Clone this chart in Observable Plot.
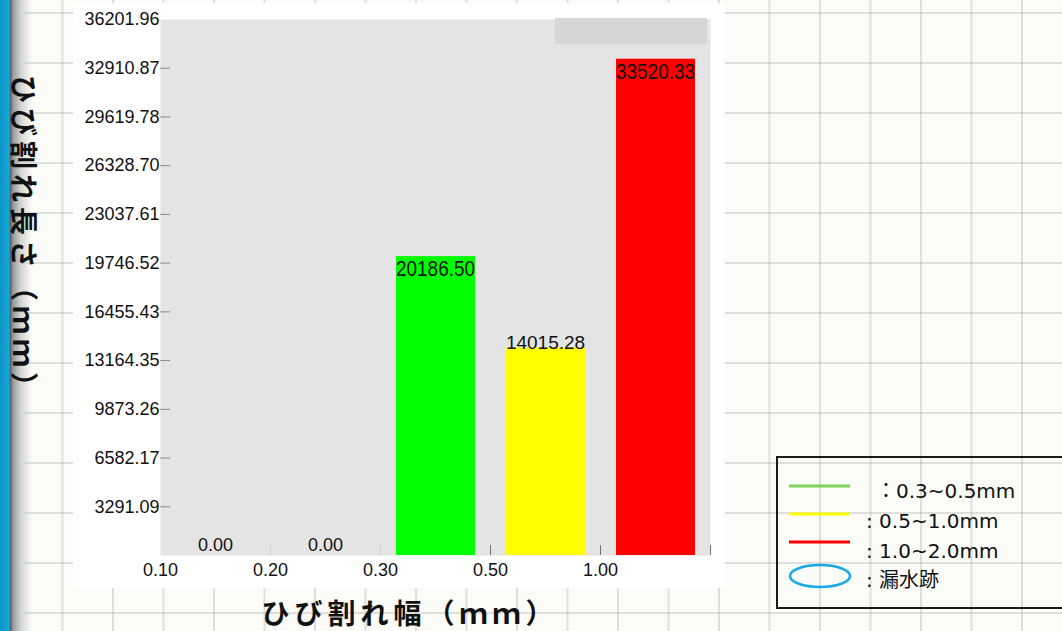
<!DOCTYPE html>
<html>
<head>
<meta charset="utf-8">
<script src="https://cdn.jsdelivr.net/npm/d3@7"></script>
<script src="https://cdn.jsdelivr.net/npm/@observablehq/plot@0.6"></script>
<style>
  html, body { margin: 0; padding: 0; }
  body {
    width: 1062px; height: 631px; overflow: hidden; position: relative;
    background-color: #fbfcf7;
    background-image:
      linear-gradient(to right, rgba(140,140,140,0.26) 0 2px, transparent 2px),
      linear-gradient(to bottom, rgba(140,140,140,0.26) 0 2px, transparent 2px);
    background-size: 50.5px 50px;
    background-position: 11px 12px;
  }
  #strip {
    position: absolute; left: 0; top: 0; width: 34px; height: 631px;
    background: linear-gradient(to right, #0b96c8 0px, #1aa5d7 9px, #56656d 10.5px, #959b9e 13px, #d4d6d3 21px, rgba(251,252,247,0) 32px);
  }
  #panel { position: absolute; left: 73px; top: 3px; width: 652px; height: 585px; background: #fff; }
  #chart { position: absolute; left: 0; top: 0; }
  #stamp { position: absolute; left: 555px; top: 18px; width: 152px; height: 26px; background: #d6d6d6; }
  #overlay { position: absolute; left: 0; top: 0; }
</style>
</head>
<body>
<div id="strip"></div>
<div id="panel"></div>
<div id="chart"></div>
<div id="stamp"></div>
<svg id="overlay" width="1062" height="631"></svg>
<script>
// Crack width bins (mm) and total crack length per bin (mm)
const widthBins = ["0.10", "0.20", "0.30", "0.50", "1.00"];
const crackLength = [0, 0, 20186.50, 14015.28, 33520.33];
const binColors = ["#00ff00", "#00ff00", "#00ff00", "#ffff00", "#ff0000"];

// Vertical axis tick labels
const yTickLabels = ["3291.09", "6582.17", "9873.26", "13164.35", "16455.43", "19746.52",
                     "23037.61", "26328.70", "29619.78", "32910.87", "36201.96"];
const yMax = 36201.96;

// Axis titles
const yTitle = "ひび割れ長さ（ｍｍ）";
const xTitle = "ひび割れ幅（ｍｍ）";

// Bins whose value label sits inside the top of the bar
const insideLabelBins = new Set(["0.30", "1.00"]);

// Legend entries
const legendLabels = ["：0.3~0.5mm", ": 0.5~1.0mm", ": 1.0~2.0mm", ": 漏水跡"];
const legendColors = ["#7fd457", "#ffff00", "#ff0000", "#17a9e6"];

const W = 1062, H = 631;
const M = {top: 19, right: 352, bottom: 76, left: 160};
const innerW = W - M.left - M.right;
const innerH = H - M.top - M.bottom;
const step = innerW / widthBins.length;
const barInsetL = 16, barInsetR = 15;

const rows = widthBins.map((bin, i) => ({bin, len: crackLength[i]}));
const fmt = d3.format(".2f");
const yTicks = yTickLabels.map(Number);
const latin = "'Liberation Sans', Arial, sans-serif";
const jpFont = "'Noto Sans CJK JP', 'Noto Sans', sans-serif";

const chart = Plot.plot({
  width: W, height: H,
  marginTop: M.top, marginRight: M.right, marginBottom: M.bottom, marginLeft: M.left,
  style: {background: "transparent", fontFamily: latin, fontSize: "18px", color: "#111", overflow: "visible"},
  x: {domain: widthBins, padding: 0, axis: null},
  y: {domain: [0, yMax], axis: null},
  color: {domain: widthBins, range: binColors},
  marks: [
    Plot.frame({fill: "#e4e4e4", stroke: "none"}),
    // short inward ticks on the value axis
    Plot.tickY(yTicks.slice(0, -1), {y: d => d, insetRight: innerW - 10, stroke: "#8c8c8c"}),
    // short ticks at the bin boundaries
    Plot.ruleX(widthBins, {x: d => d, dx: step / 2, insetTop: innerH - 10, stroke: (d, i) => i < 2 ? "#d2d2d2" : "#707070"}),
    Plot.barY(rows, {x: "bin", y: "len", fill: "bin", insetLeft: barInsetL, insetRight: barInsetR}),
    // value-axis tick labels
    Plot.text(yTicks, {y: d => d, frameAnchor: "left", text: d => fmt(d), textAnchor: "end", dx: -1, fontSize: 18, fontFamily: latin, fill: "#111"}),
    // bin-edge labels
    Plot.text(widthBins, {x: d => d, frameAnchor: "bottom", text: d => d, lineAnchor: "top", dx: -step / 2, dy: 8, fontSize: 18, fontFamily: latin, fill: "#111"}),
    // value labels
    Plot.text(rows.filter(r => r.len === 0), {x: "bin", y: "len", text: r => fmt(r.len), lineAnchor: "middle", dy: -10, fontSize: 18, fontFamily: latin, fill: "#111"}),
    Plot.text(rows.filter(r => r.len > 0 && !insideLabelBins.has(r.bin)), {x: "bin", y: "len", text: r => fmt(r.len), lineAnchor: "bottom", dy: 1, fontSize: 19, fontFamily: latin, fill: "#111"}),
    Plot.text(rows.filter(r => insideLabelBins.has(r.bin)), {x: "bin", y: "len", text: r => fmt(r.len), lineAnchor: "top", dy: 4, fontSize: 22, fontFamily: latin, fill: "#111", ariaDescription: "inside-labels"})
  ]
});
document.getElementById("chart").append(chart);

// condensed labels that span the bar width
d3.select(chart).selectAll('g[aria-description="inside-labels"] text')
  .attr("textLength", step - barInsetL - barInsetR)
  .attr("lengthAdjust", "spacingAndGlyphs");

const ov = d3.select("#overlay");

// Axis titles
ov.append("text").attr("transform", "translate(25,240) rotate(90)")
  .attr("text-anchor", "middle").attr("dominant-baseline", "central")
  .attr("font-family", jpFont).attr("font-size", 28).attr("font-weight", "bold")
  .style("letter-spacing", "5px").attr("fill", "#111").text(yTitle);
ov.append("text").attr("x", 410).attr("y", 624)
  .attr("text-anchor", "middle")
  .attr("font-family", jpFont).attr("font-size", 28).attr("font-weight", "bold")
  .style("letter-spacing", "5px").attr("fill", "#111").text(xTitle);

// Legend box
ov.append("rect").attr("x", 777).attr("y", 457).attr("width", 320).attr("height", 151)
  .attr("fill", "none").attr("stroke", "#1a1a1a").attr("stroke-width", 2);
const rowY = [486, 514, 542, 576];
const textY = [498, 528, 558, 587];
const textX = [876, 866, 866, 866];
legendLabels.forEach((label, i) => {
  if (i < 3) {
    ov.append("line").attr("x1", 789).attr("x2", 850).attr("y1", rowY[i]).attr("y2", rowY[i])
      .attr("stroke", legendColors[i]).attr("stroke-width", 3);
  } else {
    ov.append("ellipse").attr("cx", 820).attr("cy", rowY[i]).attr("rx", 30).attr("ry", 11)
      .attr("fill", "none").attr("stroke", legendColors[i]).attr("stroke-width", 2.5);
  }
  ov.append("text").attr("x", textX[i]).attr("y", textY[i])
    .attr("font-family", "'DejaVu Sans', 'Noto Sans CJK JP', sans-serif").attr("font-size", 20)
    .attr("fill", "#111").text(label);
});
</script>
</body>
</html>
